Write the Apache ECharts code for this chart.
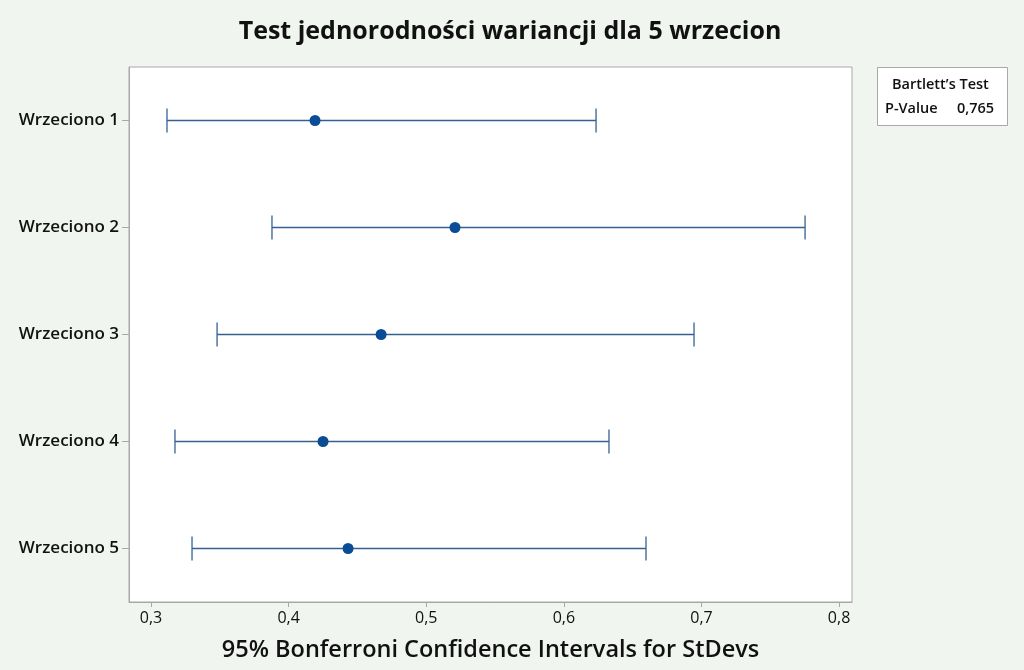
<!DOCTYPE html>
<html><head><meta charset="utf-8">
<script src="https://cdn.jsdelivr.net/npm/echarts@6/dist/echarts.min.js"></script>
<style>html,body{margin:0;padding:0;background:#f0f5ef;}#c{width:1024px;height:670px;}</style>
</head><body><div id="c"></div>
<script>
const categories = ['Wrzeciono 1','Wrzeciono 2','Wrzeciono 3','Wrzeciono 4','Wrzeciono 5'];
const lower = [0.3116, 0.3879, 0.3480, 0.3174, 0.3298];
const estimate = [0.4192, 0.5209, 0.4672, 0.4250, 0.4432];
const upper = [0.6234, 0.7753, 0.6946, 0.6328, 0.6597];
const xTicks = [0.3, 0.4, 0.5, 0.6, 0.7, 0.8];
const pValue = '0,765';

const F = '"Open Sans", "Noto Sans", sans-serif';
const chart = echarts.init(document.getElementById('c'));
const ciData = categories.map((c,i)=>[lower[i], upper[i], i]);
const dotData = categories.map((c,i)=>[estimate[i], i]);
chart.setOption({
  backgroundColor: '#f0f5ef',
  animation: false,
  title: {text: 'Test jednorodności wariancji dla 5 wrzecion', left: 505, top: 14, textAlign: 'center',
    textStyle: {fontFamily: F, fontSize: 25, fontWeight: 'bold', color: '#111'}},
  grid: {left: 129, right: 172, top: 67, bottom: 68, show: true, backgroundColor: '#fff', borderColor: '#a8a8a8', borderWidth: 1},
  xAxis: {type: 'value', min: 0.284, max: 0.8094, interval: 0.1,
    name: '95% Bonferroni Confidence Intervals for StDevs', nameLocation: 'middle', nameGap: 36,
    nameTextStyle: {fontFamily: F, fontSize: 23.5, fontWeight: 600, color: '#111'},
    axisLine: {show: true, lineStyle: {color: '#a8a8a8'}},
    axisTick: {show: true, length: 5, lineStyle: {color: '#a8a8a8'}, customValues: xTicks},
    axisLabel: {fontFamily: F, fontSize: 16, color: '#111', margin: 8, customValues: xTicks,
      formatter: v => v.toFixed(1).replace('.', ',')},
    splitLine: {show: false}},
  yAxis: {type: 'category', data: categories, inverse: true, boundaryGap: true,
    axisLine: {show: true, lineStyle: {color: '#a8a8a8'}},
    axisTick: {show: true, alignWithLabel: true, length: 7, lineStyle: {color: '#a8a8a8'}},
    axisLabel: {fontFamily: F, fontSize: 17, fontWeight: 600, color: '#111', margin: 10},
    splitLine: {show: false}},
  series: [
    {type: 'custom', data: ciData, encode: {x: [0,1], y: 2},
     renderItem: (params, api) => {
       const a = api.coord([api.value(0), api.value(2)]);
       const b = api.coord([api.value(1), api.value(2)]);
       const h = 12;
       const st = {stroke: '#35618f', lineWidth: 1.3};
       return {type: 'group', children: [
         {type: 'line', shape: {x1: a[0], y1: a[1], x2: b[0], y2: b[1]}, style: st},
         {type: 'line', shape: {x1: a[0], y1: a[1]-h, x2: a[0], y2: a[1]+h}, style: st},
         {type: 'line', shape: {x1: b[0], y1: b[1]-h, x2: b[0], y2: b[1]+h}, style: st}
       ]};
     }},
    {type: 'scatter', data: dotData, symbol: 'circle', symbolSize: 11, itemStyle: {color: '#0a4c96', opacity: 1}, z: 5}
  ],
  graphic: [
    {type: 'rect', left: 877, top: 67, shape: {width: 130, height: 58},
     style: {fill: '#fff', stroke: '#a8a8a8', lineWidth: 1}},
    {type: 'text', left: 892, top: 77, style: {text: 'Bartlett\u2019s Test', font: '600 14.5px ' + F, fill: '#111'}},
    {type: 'text', left: 885, top: 101, style: {text: 'P-Value', font: '600 14.5px ' + F, fill: '#111'}},
    {type: 'text', left: 957, top: 101, style: {text: pValue, font: '600 14.5px ' + F, fill: '#111'}}
  ]
});
</script></body></html>
